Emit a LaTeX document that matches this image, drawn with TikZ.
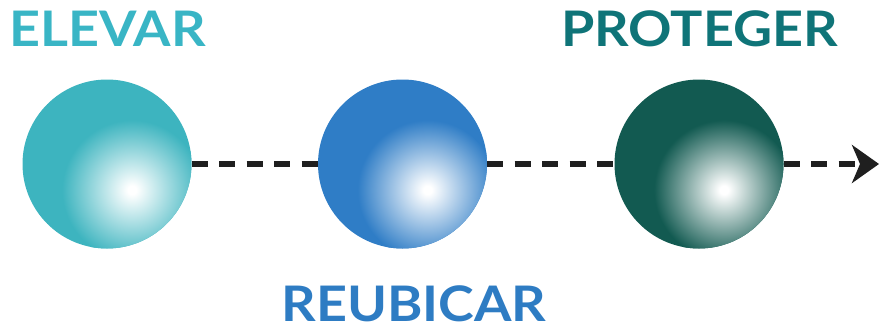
\documentclass[tikz,border=0pt]{standalone}
\usepackage{fontspec}
\setmainfont{Lato}
\newfontfamily\lblfont[FakeStretch=1.1]{Lato}
\usetikzlibrary{arrows.meta,calc}
\definecolor{cA}{HTML}{3DB4BF}
\definecolor{cB}{HTML}{2F7DC6}
\definecolor{cC}{HTML}{125A51}
\definecolor{tA}{HTML}{39B5C5}
\definecolor{tB}{HTML}{2E7CC3}
\definecolor{tC}{HTML}{0F7478}
\pgfdeclareradialshading{sphcA}{\pgfpoint{0bp}{0bp}}{color(0bp)=(white); color(1.5bp)=(white); color(25bp)=(cA); color(50bp)=(cA)}
\pgfdeclareradialshading{sphcB}{\pgfpoint{0bp}{0bp}}{color(0bp)=(white); color(1.5bp)=(white); color(25bp)=(cB); color(50bp)=(cB)}
\pgfdeclareradialshading{sphcC}{\pgfpoint{0bp}{0bp}}{color(0bp)=(white); color(1.5bp)=(white); color(25bp)=(cC); color(50bp)=(cC)}
\tikzset{
  sphere/.style={circle, minimum size=169pt, inner sep=0pt, fill=#1},
  lbl/.style={anchor=base, inner sep=0pt, text=#1, font=\lblfont\fontsize{49}{55}\selectfont\bfseries},
  conn/.style={line width=6pt, dash pattern=on 16pt off 11.5pt, black!88},
}
\begin{document}
\begin{tikzpicture}[x=1pt,y=1pt]
\useasboundingbox (0,0) rectangle (880,-329);
\node[sphere=cA] (s1) at (107,-164) {};
\node[sphere=cB] (s2) at (402.5,-164) {};
\node[sphere=cC] (s3) at (699,-164) {};
\foreach \s/\c in {s1/cA, s2/cB, s3/cC}{
  \begin{scope}
    \clip (\s) circle (84.5);
    \shade[shading=sph\c] ($(\s)+(25,-26)$) circle (70);
  \end{scope}
}
\coordinate (tip) at (879,-164);
\draw[conn] (s1.east) -- (s2.west);
\draw[conn] (s2.east) -- (s3.west);
\draw[conn, -{Stealth[length=27pt,width=38pt,inset=8pt]}] (s3.east) -- (tip);
\node[lbl=tA] (l1) at (107.5,-47) {ELEVAR};
\node[lbl=tB] (l2) at (414,-321) {REUBICAR};
\node[lbl=tC] (l3) at (699.5,-47) {PROTEGER};
\end{tikzpicture}
\end{document}
